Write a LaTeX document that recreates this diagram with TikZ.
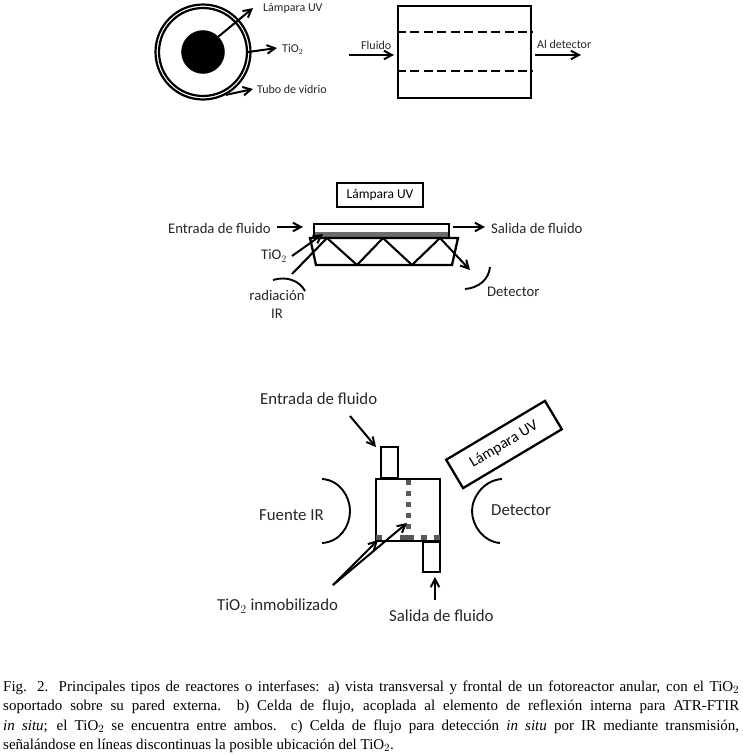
\documentclass[tikz,border=0pt]{standalone}
\usepackage{fontspec}
\setmainfont{Liberation Serif}
\newfontfamily\labelfont{Carlito}
\usetikzlibrary{arrows.meta,positioning,calc}

\begin{document}
\begin{tikzpicture}[
  x=1pt,y=-1pt,
  font=\labelfont\fontsize{14.7}{16}\selectfont,
  lbl/.style={inner sep=0pt,text=black!85},
  small/.style={lbl,font=\labelfont\fontsize{12}{14}\selectfont},
  big/.style={lbl,font=\labelfont\fontsize{16.8}{18}\selectfont},
  box/.style={draw,line width=2.3pt,minimum width=#1,inner sep=0pt},
  ring/.style={draw,circle,inner sep=0pt,minimum size=#1},
  arr/.style={-{Straight Barb[length=2.8mm,width=3mm]},line width=2pt},
  curve/.style={line width=1.9pt},
  caption/.style={inner sep=0pt,anchor=base west,font=\fontsize{15}{17}\selectfont}
]
\useasboundingbox (0,0) rectangle (742,755);

% transversal view
\node[ring=95pt,line width=2.2pt] (tube) at (203,52) {};
\node[ring=88pt,line width=2.2pt] (tubein) at (203,52) {};
\node[ring=43pt,fill=black] (lamp) at (203,52) {};
\node[small,anchor=west] (lamplabel) at (263,8) {Lámpara UV};
\node[small,anchor=west] (tio2label) at (282,49) {TiO$_2$};
\node[small,anchor=west] (glasslabel) at (257,89) {Tubo de vidrio};
\coordinate (lampend) at (253,8);
\coordinate (tio2end) at (277,48);
\coordinate (glassend) at (253,89);
\draw[arr] (lamp.45) -- (lampend);
\draw[arr] (tubein.east) -- (tio2end);
\draw[arr] (tube.-62) -- (glassend);

% frontal view
\node[box=133pt,minimum height=92pt] (front) at (464.5,52) {};
\node[small,anchor=west] (fluidlabel) at (361,45) {Fluido};
\node[small,anchor=west] (detlabel) at (537,44) {Al detector};
\coordinate (fluidstart) at (349,55);
\coordinate (fluidend) at (394,55);
\coordinate (detstart) at (535,55);
\coordinate (detend) at (581,55);
\draw[arr] (fluidstart) -- (fluidend);
\draw[arr] (detstart) -- (detend);
\draw[line width=1.6pt,dash pattern=on 9pt off 4.5pt] (front.west |- 0,32) -- (front.east |- 0,32);
\draw[line width=1.6pt,dash pattern=on 9pt off 4.5pt] (front.west |- 0,71) -- (front.east |- 0,71);

% ATR cell
\node[box=86pt,minimum height=24pt,font=\labelfont\fontsize{13.5}{15}\selectfont] (uvbox) at (380,195) {Lámpara UV};
\node[box=135pt,minimum height=14pt] (cell) at (381.5,231) {};
\fill[gray!85!black] (315,232) rectangle (448,237);
\draw[line width=2.3pt] (310,238) -- (458,238) -- (452,265) -- (316,265) -- cycle;
\coordinate (irstart) at (292,274);
\coordinate (z1) at (327,238);
\coordinate (z2) at (357,265);
\coordinate (z3) at (383,238);
\coordinate (z4) at (412,265);
\coordinate (z5) at (440,238);
\coordinate (zend) at (470,270);
\draw[line width=2.1pt] (irstart) -- (z1) -- (z2) -- (z3) -- (z4) -- (z5);
\draw[arr] (z5) -- (zend);
\node[lbl,anchor=west] (inlabel) at (168,228) {Entrada de fluido};
\node[lbl,anchor=west] (outlabel) at (491,228) {Salida de fluido};
\node[lbl,anchor=west] (tilabel) at (261,256) {TiO$_2$};
\node[lbl,align=center] (irlabel) at (277,304) {radiación\\[2pt]IR};
\node[lbl,anchor=west] (atrdet) at (487,292) {Detector};
\coordinate (instart) at (277,227);
\coordinate (inend) at (303,227);
\coordinate (outstart) at (453,227);
\coordinate (outend) at (485,227);
\coordinate (tistart) at (292,256);
\coordinate (tiend) at (323,234);
\draw[arr] (instart) -- (inend);
\draw[arr] (outstart) -- (outend);
\draw[arr] (tistart) -- (tiend);
\coordinate (irarca) at (273,280);
\coordinate (irarcb) at (305,291);
\coordinate (detarca) at (465,289);
\coordinate (detarcb) at (490,267);
\draw[curve] (irarca) .. controls (286,276) and (299,280) .. (irarcb);
\draw[curve] (detarca) .. controls (479,288) and (489,279) .. (detarcb);

% transmission cell
\node[box=64pt,minimum height=62pt] (trans) at (408,510) {};
\node[box=17pt,minimum height=31pt,anchor=south] (tubetop) at (389.5,479) {};
\node[box=17pt,minimum height=30pt,anchor=north] (tubebot) at (431.5,541) {};
\node[box=115pt,minimum height=33pt,rotate=30.8,font=\labelfont\fontsize{15.5}{17}\selectfont] (uvtilt) at (504,444.5) {Lámpara UV};
\draw[gray!70!black,line width=5pt,dash pattern=on 5pt off 6pt] (408,480) -- (408,531);
\draw[gray!70!black,line width=5pt,dash pattern=on 6pt off 18pt on 14pt off 7pt on 6pt off 7pt on 6pt] (376,537.5) -- (440,537.5);
\node[big,anchor=west] (toplabel) at (260,399) {Entrada de fluido};
\node[big,anchor=west] (botlabel) at (389,616) {Salida de fluido};
\node[big,anchor=west] (sourcelabel) at (259,515) {Fuente IR};
\node[big,anchor=west] (translabel) at (491,510) {Detector};
\node[big,anchor=west] (immlabel) at (217,606) {TiO$_2$ inmobilizado};
\coordinate (topstart) at (350,416);
\coordinate (topend) at (376,447);
\coordinate (botstart) at (435,600);
\coordinate (botend) at (435,577);
\coordinate (immstart) at (333,585);
\coordinate (immenda) at (407,523);
\coordinate (immendb) at (378,540);
\draw[arr] (topstart) -- (topend);
\draw[arr] (botstart) -- (botend);
\draw[arr] (immstart) -- (immenda);
\draw[arr] (immstart) -- (immendb);
\coordinate (srca) at (322,479);
\coordinate (srcb) at (322,543);
\coordinate (rcva) at (502,479);
\coordinate (rcvb) at (500,543);
\draw[curve] (srca) .. controls (340,480) and (350,497) .. (350,511) .. controls (350,526) and (340,542) .. (srcb);
\draw[curve] (rcva) .. controls (484,480) and (472,497) .. (472,511) .. controls (472,526) and (484,542) .. (rcvb);

% caption
\node[caption] (cap1) at (3,691) {\hbox to 736pt{Fig. 2. Principales tipos de reactores o interfases: a) vista transversal y frontal de un fotoreactor anular, con el TiO$_2$}};
\node[caption] (cap2) at (3,710) {\hbox to 736pt{soportado sobre su pared externa.\ \ b) Celda de flujo, acoplada al elemento de reflexión interna para ATR-FTIR}};
\node[caption] (cap3) at (3,730) {\hbox to 736pt{\textit{in situ}; el TiO$_2$ se encuentra entre ambos.\ \ c) Celda de flujo para detección \textit{in situ} por IR mediante transmisión,}};
\node[caption] (cap4) at (3,749) {señalándose en líneas discontinuas la posible ubicación del TiO$_2$.};
\end{tikzpicture}
\end{document}
